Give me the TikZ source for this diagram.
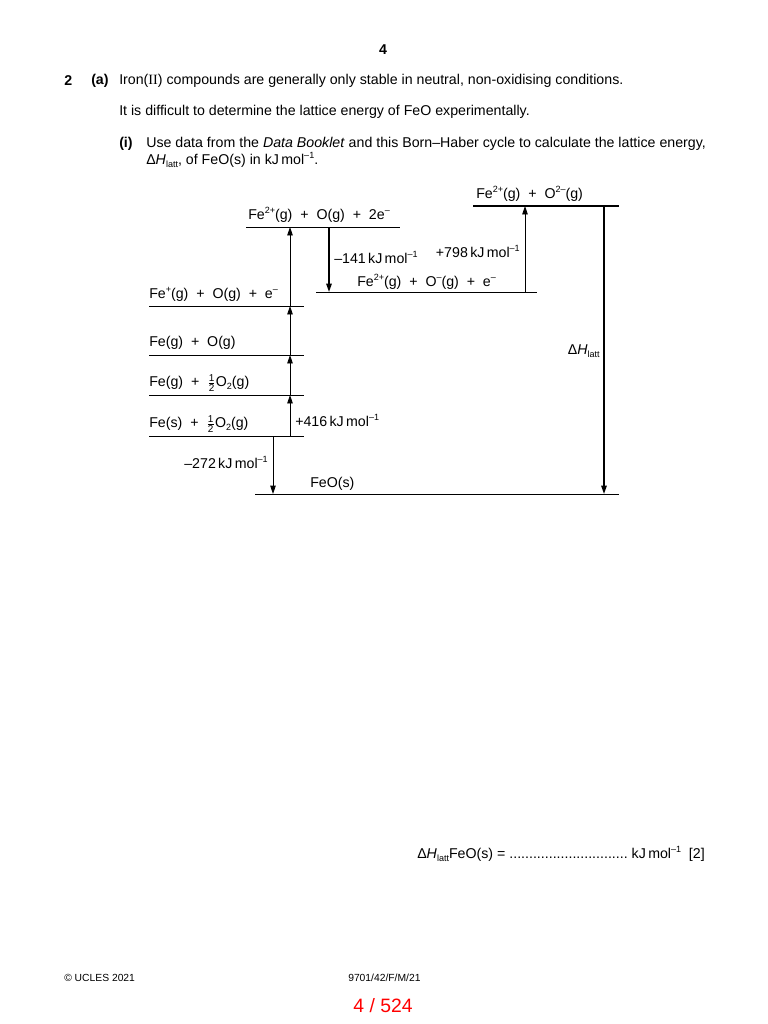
\documentclass[tikz,border=0pt]{standalone}
\usepackage{amsmath}
\usepackage{fontspec}
\setmainfont{Liberation Sans}
\newfontfamily\romfont{Liberation Serif}
\usetikzlibrary{arrows.meta}

\newcommand{\pl}{\ \ +\ \ }
\newcommand{\sps}[1]{\raisebox{0.42em}{\fontsize{7}{8}\selectfont #1}}
\newcommand{\sbs}[1]{\raisebox{-0.22em}{\fontsize{7}{8}\selectfont #1}}
\newcommand{\half}{$\tfrac{\text{1}}{\text{2}}$}
\newcommand{\kjmol}{kJ\,mol\sps{--1}}
\newcommand{\dHl}{Δ\textit{H}\sbs{latt}}

\begin{document}
\begin{tikzpicture}[x=0.775pt, y=-0.775pt,
    txt/.style={inner sep=0pt, anchor=west, font=\fontsize{11}{13}\selectfont},
    bld/.style={txt, font=\fontsize{11}{13}\selectfont\bfseries},
    foot/.style={inner sep=0pt, anchor=west, font=\fontsize{8}{10}\selectfont},
    lvl/.style={line width=0.6pt},
    up/.style={-{Triangle[length=6.5pt,width=4.2pt]}, line width=0.6pt},
    thk/.style={-{Triangle[length=6.5pt,width=4.2pt]}, line width=1.2pt}
]
\useasboundingbox (0,0) rectangle (768,1024);

% page header and question
\node[bld, anchor=center] (pg) at (383,50) {4};
\node[bld] (q2) at (64,81) {2};
\node[bld] (qa) at (91,81) {(a)};
\node[txt] (t1) at (119,81) {Iron({\romfont II}) compounds are generally only stable in neutral, non-oxidising conditions.};
\node[txt] (t2) at (119,112) {It is difficult to determine the lattice energy of FeO experimentally.};
\node[bld] (qi) at (119,144) {(i)};
\node[txt] (t3) at (146,144) {Use data from the \textit{Data Booklet} and this Born--Haber cycle to calculate the lattice energy,};
\node[txt] (t4) at (146,160) {\dHl, of FeO(s) in \kjmol.};

% energy levels
\draw[lvl, line width=1.2pt] (473,206) coordinate (L7w) -- (619,206) coordinate (L7e);
\draw[lvl] (246,227) coordinate (L5w) -- (400,227) coordinate (L5e);
\draw[lvl] (316,292) coordinate (L6w) -- (537,292) coordinate (L6e);
\draw[lvl] (149,306) coordinate (L4w) -- (304,306) coordinate (L4e);
\draw[lvl] (149,355) coordinate (L3w) -- (304,355) coordinate (L3e);
\draw[lvl] (149,395) coordinate (L2w) -- (304,395) coordinate (L2e);
\draw[lvl] (149,436) coordinate (L1w) -- (304,436) coordinate (L1e);
\draw[lvl] (255,494) coordinate (L0w) -- (619,494) coordinate (L0e);

\node[txt] (n7) at (476,194) {Fe\sps{2+}(g)\pl O\sps{2--}(g)};
\node[txt] (n5) at (248,215) {Fe\sps{2+}(g)\pl O(g)\pl 2e\sps{--}};
\node[txt] (n6) at (357,282) {Fe\sps{2+}(g)\pl O\sps{--}(g)\pl e\sps{--}};
\node[txt] (n4) at (149,294) {Fe\sps{+}(g)\pl O(g)\pl e\sps{--}};
\node[txt] (n3) at (149,343) {Fe(g)\pl O(g)};
\node[txt] (n2) at (149,383) {Fe(g)\pl \half O\sbs{2}(g)};
\node[txt] (n1) at (149,424) {Fe(s)\pl \half O\sbs{2}(g)};
\node[txt] (n0) at (310,484) {FeO(s)};

% arrow ends
\coordinate (c0) at (290,436);
\coordinate (c1) at (290,395);
\coordinate (c2) at (290,355);
\coordinate (c3) at (290,306);
\coordinate (c4) at (290,227);
\coordinate (d0) at (273,436);
\coordinate (d1) at (273,494);
\coordinate (e0) at (329,227);
\coordinate (e1) at (329,292);
\coordinate (f0) at (525,292);
\coordinate (f1) at (525,206);
\coordinate (g0) at (604,206);
\coordinate (g1) at (604,494);

\draw[up] (c0) -- (c1);
\draw[up] (c1) -- (c2);
\draw[up] (c2) -- (c3);
\draw[up] (c3) -- (c4);
\draw[up] (d0) -- (d1);
\draw[thk] (e0) -- (e1);
\draw[up] (f0) -- (f1);
\draw[thk] (g0) -- (g1);

\node[txt] (h416) at (295,420) {+416\,\kjmol};
\node[txt, anchor=east] (h272) at (268,462) {--272\,\kjmol};
\node[txt] (h141) at (334,257) {--141\,\kjmol};
\node[txt, anchor=east] (h798) at (520,251) {+798\,\kjmol};
\node[txt, anchor=east] (hl) at (600,351) {\dHl};

% answer line and footer
\node[txt] (ans) at (417,854) {\dHl FeO(s) = ..............................\ \kjmol\ \ [2]};
\node[foot] (cp) at (64,978) {© UCLES 2021};
\node[foot] (code) at (348,978) {9701/42/F/M/21};
\node[inner sep=0pt, text=red, font=\fontsize{15}{17}\selectfont] (pp) at (383,1006) {4 / 524};
\end{tikzpicture}
\end{document}
